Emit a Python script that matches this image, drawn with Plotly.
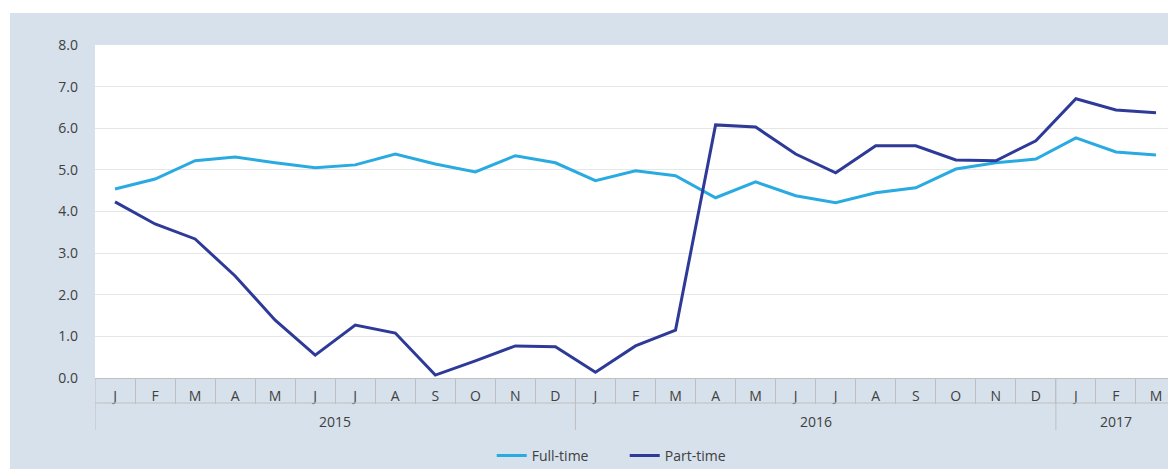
import plotly.graph_objects as go

years = ["2015"] * 12 + ["2016"] * 12 + ["2017"] * 3
months = ["J", "F", "M", "A", "M", "J", "J", "A", "S", "O", "N", "D",
          "J", "F", "M", "A", "M", "J", "J", "A", "S", "O", "N", "D",
          "J", "F", "M"]

full_time = [4.54, 4.78, 5.22, 5.31, 5.17, 5.05, 5.12, 5.38, 5.14, 4.95, 5.34, 5.17,
             4.74, 4.98, 4.86, 4.33, 4.71, 4.38, 4.21, 4.45, 4.57, 5.02, 5.17, 5.26,
             5.77, 5.43, 5.36]
part_time = [4.23, 3.70, 3.34, 2.45, 1.39, 0.55, 1.27, 1.08, 0.07, 0.41, 0.77, 0.75,
             0.14, 0.77, 1.15, 6.08, 6.03, 5.38, 4.93, 5.58, 5.58, 5.24, 5.22, 5.70,
             6.71, 6.44, 6.37]

idx = list(range(len(months)))
n = len(months)

BG = "#D6E1EC"
GRAY = "#BFBFBF"
TXT = "#404040"
FS = 14
fig = go.Figure()
fig.add_trace(go.Scatter(x=idx, y=full_time, mode="lines", name="Full-time",
                         line=dict(color="#29ABE2", width=3)))
fig.add_trace(go.Scatter(x=idx, y=part_time, mode="lines", name="Part-time",
                         line=dict(color="#2E3A97", width=3)))

# year groups
groups = []
for i, y in enumerate(years):
    if not groups or groups[-1][0] != y:
        groups.append([y, i, i])
    else:
        groups[-1][2] = i

shapes = [
    dict(type="rect", xref="paper", yref="paper", ysizemode="pixel", yanchor=1,
         x0=-0.2, x1=1.2, y0=32, y1=45, fillcolor="white", line=dict(width=0),
         layer="below"),
    dict(type="rect", xref="paper", yref="paper", xsizemode="pixel", xanchor=0,
         x0=-95, x1=-85, y0=-0.5, y1=1.5, fillcolor="white", line=dict(width=0),
         layer="below"),
    dict(type="line", xref="paper", yref="paper", ysizemode="pixel", yanchor=0,
         x0=0, x1=1, y0=-25, y1=-25, line=dict(color=GRAY, width=1)),
]
annotations = []
for name, a, b in groups:
    shapes.append(dict(type="line", xref="x", yref="paper", ysizemode="pixel", yanchor=0,
                       x0=a - 0.5, x1=a - 0.5, y0=0, y1=-52,
                       line=dict(color=GRAY, width=1)))
    annotations.append(dict(x=(a + b) / 2, xref="x", y=0, yref="paper", yshift=-43,
                            text=name, showarrow=False, yanchor="middle",
                            font=dict(size=FS, color=TXT)))

fig.update_layout(
    width=1168, height=461,
    margin=dict(l=87, r=0, t=37, b=91, autoexpand=False),
    paper_bgcolor=BG, plot_bgcolor="white",
    font=dict(family="Open Sans, Lato, sans-serif", size=FS, color=TXT),
    showlegend=True,
    legend=dict(orientation="h", x=0.367, xanchor="left", y=-0.234, yanchor="middle",
                bgcolor="rgba(0,0,0,0)", font=dict(size=FS, color=TXT),
                entrywidth=88, entrywidthmode="pixels", itemwidth=30),
    xaxis=dict(range=[-0.5, n - 0.5], tickmode="array", tickvals=idx, ticktext=months,
               showgrid=False, zeroline=False, showline=True, linecolor=GRAY, linewidth=1,
               ticks="", ticklabelstandoff=5, tickfont=dict(size=FS, color=TXT),
               minor=dict(tickmode="array", tickvals=[i + 0.5 for i in idx],
                          ticks="outside", ticklen=25, tickcolor=GRAY, showgrid=False)),
    yaxis=dict(range=[0, 8], dtick=1, tickformat=".1f", showgrid=True,
               gridcolor="#E6E6E6", gridwidth=1, zeroline=False, showline=False,
               ticks="", ticklabelstandoff=16, tickfont=dict(size=FS, color=TXT)),
    shapes=shapes,
    annotations=annotations,
)

fig.write_html("out.html")
